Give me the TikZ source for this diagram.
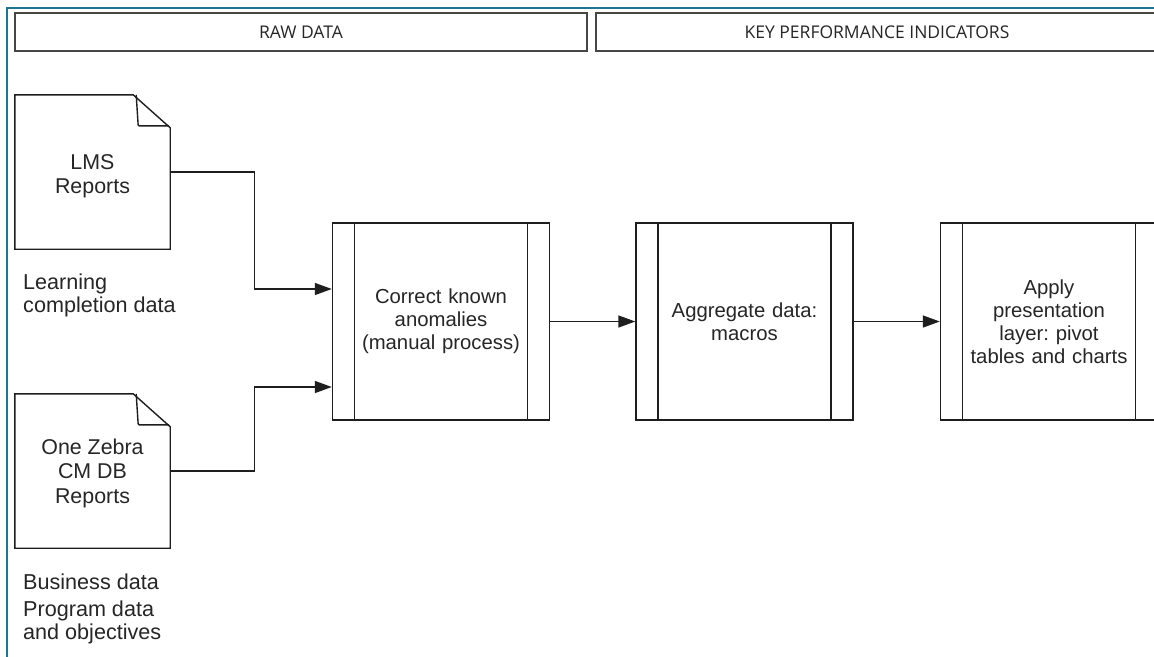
\documentclass[tikz,border=0pt]{standalone}
\usepackage{fontspec}
\setmainfont{Liberation Sans}
\newfontfamily\headfont{Open Sans}
\usetikzlibrary{arrows.meta,calc}
\frenchspacing

\definecolor{framecol}{RGB}{30,115,150}
\definecolor{linecol}{RGB}{30,30,30}
\definecolor{headcol}{RGB}{70,70,70}

% document outline with folded corner
\newcommand\docshape[1]{%
  \draw[docline] (#1.north west) -- ([xshift=-37pt]#1.north east)
    -- ([yshift=-33pt]#1.north east) -- (#1.south east)
    -- (#1.south west) -- cycle;
  \draw[docline, rounded corners=1pt] ([xshift=-34pt]#1.north east)
    -- ([xshift=-32pt,yshift=-31pt]#1.north east)
    -- ([xshift=-1pt,yshift=-31pt]#1.north east);
}

\begin{document}
\begin{tikzpicture}[x=1pt,y=-1pt,
  frame/.style={draw=framecol, line width=2pt},
  headbox/.style={draw=headcol, line width=1.8pt, minimum height=38pt,
    inner sep=0pt, font=\headfont\fontsize{17.5}{20}\selectfont, text=black!85},
  docline/.style={draw=linecol, line width=1.4pt},
  docnode/.style={minimum width=155pt, minimum height=154pt, inner sep=0pt},
  doctext/.style={inner sep=0pt, align=center,
    font=\fontsize{21.4}{24.5}\selectfont, text=black!85},
  lbl/.style={inner sep=0pt, align=left, font=\fontsize{21.6}{23}\selectfont, text=black!85},
  procbox/.style={draw=linecol, line width=1.4pt, minimum width=217pt,
    minimum height=197pt, inner sep=0pt, text width=170pt, align=center,
    font=\fontsize{20.3}{23}\selectfont, text=black!85,
    path picture={
      \draw[linecol, line width=1.4pt]
        ([xshift=22pt]path picture bounding box.north west) --
        ([xshift=22pt]path picture bounding box.south west);
      \draw[linecol, line width=1.4pt]
        ([xshift=-22pt]path picture bounding box.north east) --
        ([xshift=-22pt]path picture bounding box.south east);
    }},
  conn/.style={draw=linecol, line width=1.4pt,
    -{Triangle[length=17pt,width=12pt]}}
]
\useasboundingbox (0,0) rectangle (1154,656);
\clip (0,0) rectangle (1154,656);
\fill[white] (0,0) rectangle (1154,656);

% outer frame
\draw[frame] (7,8) rectangle (1220,720);

% swimlane headers
\node[headbox, minimum width=572pt] (raw) at (301,32) {RAW DATA};
\node[headbox, minimum width=562pt] (kpi) at (877,32) {KEY PERFORMANCE INDICATORS};

% source documents
\node[docnode] (doc1) at (92.5,172) {};
\docshape{doc1}
\node[doctext] (doc1t) at ([yshift=-4pt]doc1.center) {LMS\\Reports};
\node[docnode] (doc2) at (92.5,471) {};
\docshape{doc2}
\node[doctext] (doc2t) at ([yshift=-2pt]doc2.center) {One Zebra\\CM DB\\Reports};

% labels under the documents
\node[lbl, anchor=west] (lab1) at (23,295.5) {Learning\\completion data};
\node[lbl, anchor=west] (lab2) at (23,582) {Business data};
\node[lbl, anchor=west] (lab3) at (23,622.5) {Program data\\and objectives};

% processing steps
\node[procbox] (proc1) at (441,321.5) {Correct known\\anomalies\\(manual process)};
\node[procbox] (proc2) at (744.5,321.5) {Aggregate data:\\macros};
\node[procbox] (proc3) at (1049,321.5) {Apply\\presentation\\layer: pivot\\tables and charts};

% connectors
\draw[conn] (doc1.east) -- ++(84,0) |- ([yshift=32.5pt]proc1.west);
\draw[conn] (doc2.east) -- ++(84,0) |- ([yshift=-65.5pt]proc1.west);
\draw[conn] (proc1) -- (proc2);
\draw[conn] (proc2) -- (proc3);
\end{tikzpicture}
\end{document}
